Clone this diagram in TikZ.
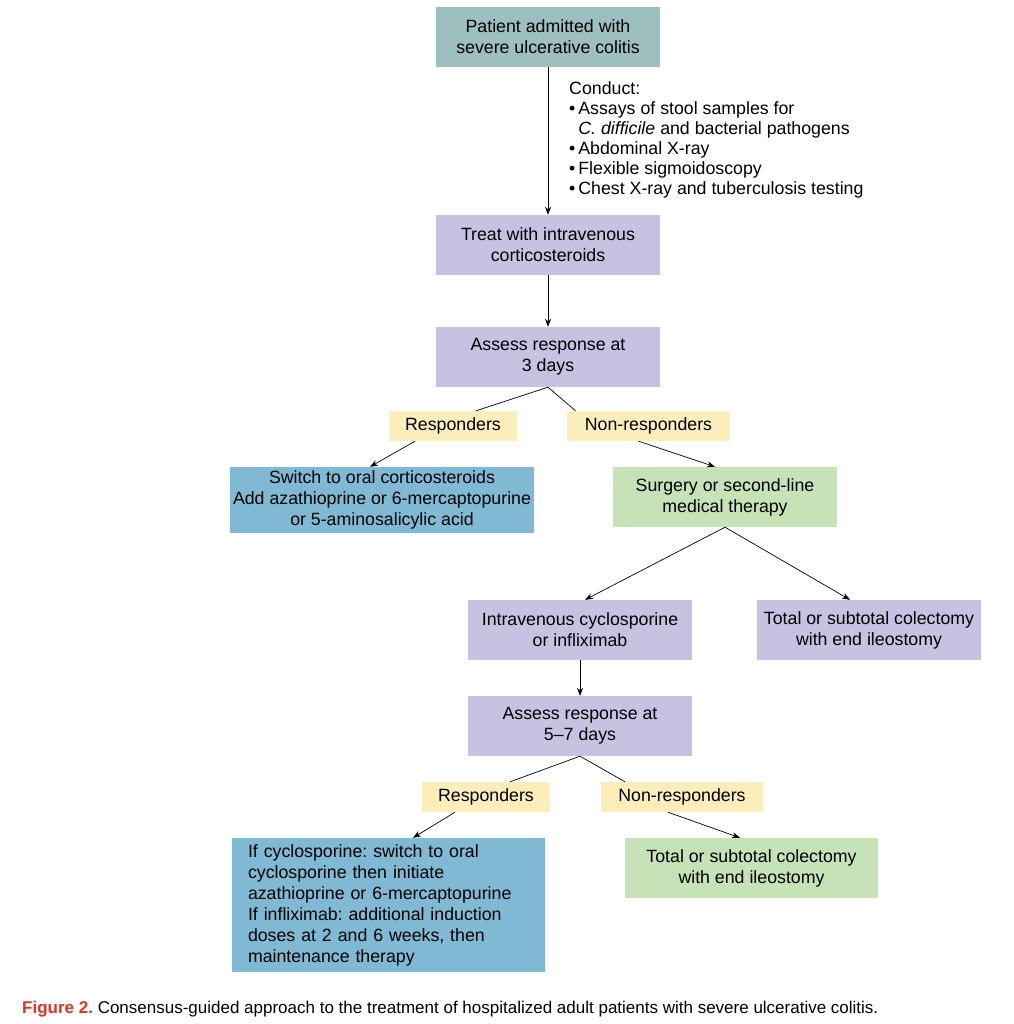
\documentclass[tikz,border=0pt]{standalone}
\usepackage{fontspec}
\setmainfont{Liberation Sans}
\newfontfamily\capfont{Liberation Sans}
\usepackage{tikz}
\usetikzlibrary{calc, arrows.meta}
\usepackage{xcolor}

\definecolor{tealbox}{RGB}{157,191,192}
\definecolor{lilacbox}{RGB}{197,194,226}
\definecolor{yellowbox}{RGB}{251,238,186}
\definecolor{bluebox}{RGB}{127,185,212}
\definecolor{greenbox}{RGB}{198,226,183}
\definecolor{capred}{RGB}{222,52,38}

\tikzset{
  box/.style={inner sep=0pt, align=center, minimum width=224pt, minimum height=60pt},
  tagbox/.style={fill=yellowbox, inner sep=0pt, minimum height=30pt},
  arr/.style={-{Stealth[length=8pt, width=6pt]}, line width=0.7pt},
  plain/.style={line width=0.7pt}
}

\begin{document}
\frenchspacing
\begin{tikzpicture}[x=1pt, y=-1pt, font=\fontsize{17.75}{21}\selectfont, line join=round]

    \useasboundingbox (0,0) rectangle (1013,1024);

    % box centres, measured in pixels from the top left corner
    \coordinate (P1) at (548, 37);
    \coordinate (P2) at (548, 245);
    \coordinate (P3) at (548, 357);
    \coordinate (R1) at (453, 426);
    \coordinate (N1) at (648.5, 426);
    \coordinate (S1) at (382, 500);
    \coordinate (G1) at (725, 497);
    \coordinate (IV) at (580, 630);
    \coordinate (T1) at (869, 630);
    \coordinate (A2) at (580, 726);
    \coordinate (R2) at (486, 797);
    \coordinate (N2) at (682, 797);
    \coordinate (S2) at (388.5, 905);
    \coordinate (T2) at (751.5, 868);

    % Boxes
    \node[box, fill=tealbox] (admit) at (P1) {Patient admitted with\\severe ulcerative colitis};
    \node[box, fill=lilacbox] (steroid) at (P2) {Treat with intravenous\\corticosteroids};
    \node[box, fill=lilacbox] (assess1) at (P3) {Assess response at\\3 days};
    \node[tagbox, minimum width=128pt] (resp1) at (R1) {Responders};
    \node[tagbox, minimum width=163pt] (nonresp1) at (N1) {Non-responders};
    \node[box, fill=bluebox, minimum width=304pt, minimum height=66pt] (oral) at (S1)
        {Switch to oral corticosteroids\\Add azathioprine or 6-mercaptopurine\\or 5-aminosalicylic acid};
    \node[box, fill=greenbox] (second) at (G1) {Surgery or second-line\\medical therapy};
    \node[box, fill=lilacbox] (cyclo) at (IV) {Intravenous cyclosporine\\or infliximab};
    \node[box, fill=lilacbox] (colect1) at (T1) {Total or subtotal colectomy\\with end ileostomy};
    \node[box, fill=lilacbox] (assess2) at (A2) {Assess response at\\5--7 days};
    \node[tagbox, minimum width=128pt] (resp2) at (R2) {Responders};
    \node[tagbox, minimum width=162pt] (nonresp2) at (N2) {Non-responders};
    \node[fill=bluebox, align=left, text width=281pt, inner xsep=16pt, inner ysep=0pt,
          minimum height=134pt] (maint) at (S2)
        {If cyclosporine: switch to oral\\cyclosporine then initiate\\azathioprine or 6-mercaptopurine\\
         If infliximab: additional induction\\doses at 2 and 6 weeks, then\\maintenance therapy};
    \node[box, fill=greenbox, minimum width=253pt] (colect2) at (T2) {Total or subtotal colectomy\\with end ileostomy};

    % Work-up list beside the first arrow
    \node[anchor=north west, align=left, inner sep=0pt, font=\fontsize{17.75}{20}\selectfont] (conduct) at (569, 81)
        {Conduct:\\
         \textbullet\,Assays of stool samples for\\
         \hphantom{\textbullet\,}\textit{C. difficile} and bacterial pathogens\\
         \textbullet\,Abdominal X-ray\\
         \textbullet\,Flexible sigmoidoscopy\\
         \textbullet\,Chest X-ray and tuberculosis testing};

    % Connectors
    \draw[arr] (admit) -- (steroid);
    \draw[arr] (steroid) -- (assess1);
    \draw[plain] (assess1.south) -- ([xshift=23pt]resp1.north);
    \draw[plain] (assess1.south) -- ([xshift=-73pt]nonresp1.north);
    \draw[arr] ([xshift=-38pt]resp1.south) -- ([xshift=-12pt]oral.north);
    \draw[arr] ([xshift=-10pt]nonresp1.south) -- ([xshift=-10pt]second.north);
    \draw[arr] (second.south) -- ([xshift=5pt]cyclo.north);
    \draw[arr] (second.south) -- ([xshift=-19pt]colect1.north);
    \draw[arr] (cyclo) -- (assess2);
    \draw[plain] (assess2.south) -- ([xshift=24pt]resp2.north);
    \draw[plain] (assess2.south) -- ([xshift=-57pt]nonresp2.north);
    \draw[arr] ([xshift=-31pt]resp2.south) -- ([xshift=24.5pt]maint.north);
    \draw[arr] ([xshift=-14pt]nonresp2.south) -- ([xshift=-11.5pt]colect2.north);

    % Caption
    \node[anchor=base west, inner sep=0pt, font=\capfont\fontsize{17}{19}\selectfont] (caption) at (22, 1013)
        {\textcolor{capred}{\bfseries Figure 2.} Consensus-guided approach to the treatment of hospitalized adult patients with severe ulcerative colitis.};

\end{tikzpicture}
\end{document}
